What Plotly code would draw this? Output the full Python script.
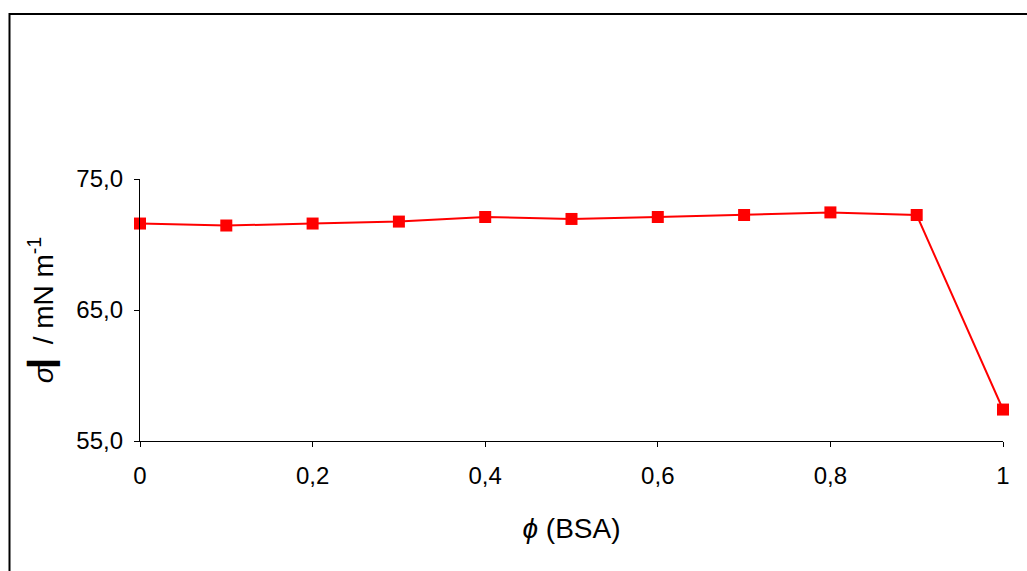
import plotly.graph_objects as go

# BSA fraction and surface tension
phi_bsa = [0.0, 0.1, 0.2, 0.3, 0.4, 0.5, 0.6, 0.7, 0.8, 0.9, 1.0]
sigma = [71.6, 71.45, 71.6, 71.75, 72.1, 71.95, 72.1, 72.25, 72.45, 72.25, 57.4]

x_tickvals = [0, 0.2, 0.4, 0.6, 0.8, 1.0]
x_ticktext = ["0", "0,2", "0,4", "0,6", "0,8", "1"]
y_tickvals = [55, 65, 75]
y_ticktext = ["55,0", "65,0", "75,0"]

W, H = 1027, 571
L, R, T, B = 140, 24, 179, 130
pw, ph = W - L - R, H - T - B

fig = go.Figure()
fig.add_trace(go.Scatter(
    x=phi_bsa, y=sigma, mode="lines+markers",
    line=dict(color="#FF0000", width=2),
    marker=dict(symbol="square", size=12, color="#FF0000"),
    cliponaxis=False, showlegend=False,
))

font = dict(family="Arial, Liberation Sans, sans-serif", color="black")

fig.update_layout(
    width=W, height=H,
    margin=dict(l=L, r=R, t=T, b=B, pad=0),
    paper_bgcolor="white", plot_bgcolor="white",
    font=dict(size=24, **font),
    xaxis=dict(
        range=[0, 1], tickvals=x_tickvals, ticktext=x_ticktext,
        showline=True, linecolor="black", linewidth=1.3,
        ticks="outside", ticklen=5, tickcolor="black", tickwidth=1.3,
        ticklabelstandoff=8,
        showgrid=False, zeroline=False,
        tickfont=dict(size=24, **font),
        title=dict(text="<i>ϕ</i> (BSA)", font=dict(size=28, **font), standoff=30),
    ),
    yaxis=dict(
        range=[55, 75], tickvals=y_tickvals, ticktext=y_ticktext,
        showline=True, linecolor="black", linewidth=1.3,
        ticks="outside", ticklen=5, tickcolor="black", tickwidth=1.3,
        ticklabelstandoff=6,
        showgrid=False, zeroline=False,
        tickfont=dict(size=24, **font),
        title=dict(text="<i>σ</i>▎/ mN m<sup>-1</sup>", font=dict(size=28, **font), standoff=14),
    ),
)

# outer frame around the chart area
x0 = (9.5 - L) / pw
x1 = (W + 5 - L) / pw
y1 = (H - B - 14) / ph
y0 = (H - B - (H + 5)) / ph
fig.add_shape(type="rect", xref="paper", yref="paper",
              x0=x0, x1=x1, y0=y0, y1=y1,
              line=dict(color="black", width=2), fillcolor="rgba(0,0,0,0)",
              layer="below")

fig.write_html("out.html")
